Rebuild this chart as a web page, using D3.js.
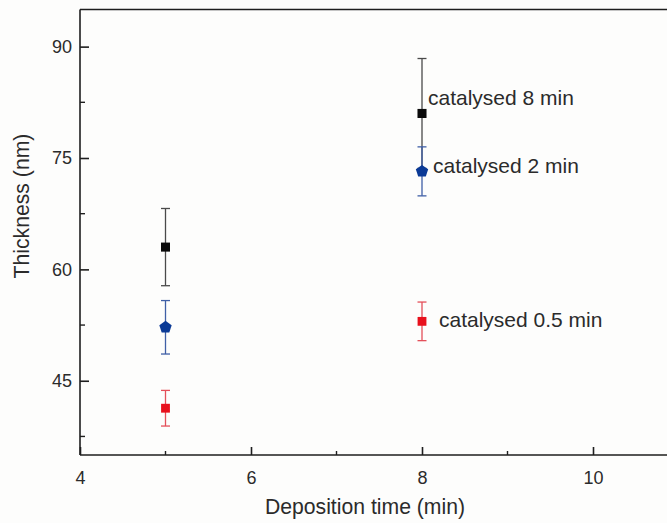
<!DOCTYPE html>
<html>
<head>
<meta charset="utf-8">
<script src="https://cdn.jsdelivr.net/npm/d3@7"></script>
<style>
  html, body { margin: 0; padding: 0; background: #fdfdfc; }
  svg { display: block; font-family: "Liberation Sans", Arial, Helvetica, sans-serif; }
</style>
</head>
<body>
<svg id="chart" width="667" height="523"></svg>
<script>
// Deposition time (min) for each measurement
const depositionTimes = [5, 8];

// Mean film thickness (nm) and error (± nm) per catalysing time
const series = ["catalysed 8 min", "catalysed 2 min", "catalysed 0.5 min"];
const thickness8 = [63.0, 81.0];
const error8 = [5.2, 7.4];
const thickness2 = [52.2, 73.2];
const error2 = [3.6, 3.3];
const thickness05 = [41.3, 53.0];
const error05 = [2.4, 2.6];

const xTicks = [4, 6, 8, 10];
const xMinorTicks = [5, 7, 9, 11];
const yTicks = [45, 60, 75, 90];
const yMinorTicks = [37.5, 52.5, 67.5, 82.5];

const svg = d3.select("#chart");
const W = 667;
const plotLeft = 80, plotTop = 9.5, plotBottom = 455;

const x = d3.scaleLinear().domain([4, 12]).range([plotLeft, plotLeft + 8 * 85.5]);
const y = d3.scaleLinear().domain([35, 95]).range([plotBottom, plotTop]);

const axisColor = "#1e1e1e";
const textColor = "#2b2b2b";

// Frame: top edge and left / bottom axes
svg.append("line")
  .attr("x1", plotLeft).attr("x2", W + 5)
  .attr("y1", y(95)).attr("y2", y(95))
  .attr("stroke", axisColor).attr("stroke-width", 1.6);

const xAxis = svg.append("g")
  .attr("transform", `translate(0,${plotBottom})`)
  .call(d3.axisBottom(x).tickValues(xTicks).tickSize(-8).tickPadding(16)
        .tickFormat(d3.format("d")));
xAxis.append("g").selectAll("line").data(xMinorTicks).join("line")
  .attr("x1", d => x(d)).attr("x2", d => x(d))
  .attr("y1", 0).attr("y2", -4)
  .attr("stroke", axisColor).attr("stroke-width", 1.4);

const yAxis = svg.append("g")
  .attr("transform", `translate(${plotLeft},0)`)
  .call(d3.axisLeft(y).tickValues(yTicks).tickSize(-9).tickPadding(8)
        .tickFormat(d3.format("d")));
yAxis.append("g").selectAll("line").data(yMinorTicks).join("line")
  .attr("x1", 0).attr("x2", 5)
  .attr("y1", d => y(d)).attr("y2", d => y(d))
  .attr("stroke", axisColor).attr("stroke-width", 1.4);

[xAxis, yAxis].forEach(g => {
  g.select(".domain").attr("stroke", axisColor).attr("stroke-width", 1.6);
  g.selectAll(".tick line").attr("stroke", axisColor).attr("stroke-width", 1.6);
  g.selectAll(".tick text").attr("fill", textColor).attr("font-size", 18)
    .attr("font-family", "'Liberation Sans', Arial, sans-serif");
});
xAxis.select(".domain").attr("d", `M${plotLeft},0H${W + 5}`);
yAxis.select(".domain").attr("d", `M0,${plotBottom}V${plotTop}`);

// Axis titles
svg.append("text")
  .attr("x", 365).attr("y", 514)
  .attr("text-anchor", "middle")
  .attr("font-size", 21.2).attr("fill", textColor)
  .text("Deposition time (min)");

svg.append("text")
  .attr("transform", `translate(29,${206}) rotate(-90)`)
  .attr("text-anchor", "middle")
  .attr("font-size", 21.2).attr("fill", textColor)
  .text("Thickness (nm)");

// Pentagon symbol for the 2 min series
const pentagon = {
  draw(ctx, size) {
    const r = Math.sqrt(size / 2.378);
    for (let i = 0; i < 5; i++) {
      const a = -Math.PI / 2 + i * 2 * Math.PI / 5;
      const px = r * Math.cos(a), py = r * Math.sin(a);
      if (i === 0) ctx.moveTo(px, py); else ctx.lineTo(px, py);
    }
    ctx.closePath();
  }
};

const groups = [
  { name: series[2], values: thickness05, errors: error05, fill: "#e8101c", bar: "#e4505a", symbol: d3.symbolSquare, size: 78 },
  { name: series[0], values: thickness8, errors: error8, fill: "#0a0a0a", bar: "#4a4a4a", symbol: d3.symbolSquare, size: 82 },
  { name: series[1], values: thickness2, errors: error2, fill: "#0b3a96", bar: "#3f5fa6", symbol: pentagon, size: 100 }
];

const capHalf = 4.5;
groups.forEach(s => {
  const g = svg.append("g");
  const pts = depositionTimes.map((t, i) => ({ t, v: s.values[i], e: s.errors[i] }));
  // error bars
  const eb = g.selectAll("g.err").data(pts).join("g").attr("class", "err")
    .attr("stroke", s.bar).attr("stroke-width", 1.3);
  eb.append("line")
    .attr("x1", d => x(d.t)).attr("x2", d => x(d.t))
    .attr("y1", d => y(d.v + d.e)).attr("y2", d => y(d.v - d.e));
  eb.append("line")
    .attr("x1", d => x(d.t) - capHalf).attr("x2", d => x(d.t) + capHalf)
    .attr("y1", d => y(d.v + d.e)).attr("y2", d => y(d.v + d.e));
  eb.append("line")
    .attr("x1", d => x(d.t) - capHalf).attr("x2", d => x(d.t) + capHalf)
    .attr("y1", d => y(d.v - d.e)).attr("y2", d => y(d.v - d.e));
  // markers
  g.selectAll("path.mark").data(pts).join("path").attr("class", "mark")
    .attr("transform", d => `translate(${x(d.t)},${y(d.v)})`)
    .attr("d", d3.symbol().type(s.symbol).size(s.size))
    .attr("fill", s.fill);
});

// Series labels beside the 8 min points
const labels = [
  { text: series[0], t: 8, v: thickness8[1], dx: 6, dy: -16 },
  { text: series[1], t: 8, v: thickness2[1], dx: 11, dy: -6 },
  { text: series[2], t: 8, v: thickness05[1], dx: 17, dy: -2 }
];
svg.append("g").selectAll("text").data(labels).join("text")
  .attr("x", d => x(d.t) + d.dx)
  .attr("y", d => y(d.v) + d.dy)
  .attr("dominant-baseline", "central")
  .attr("font-size", 21).attr("fill", textColor)
  .text(d => d.text);
</script>
</body>
</html>
